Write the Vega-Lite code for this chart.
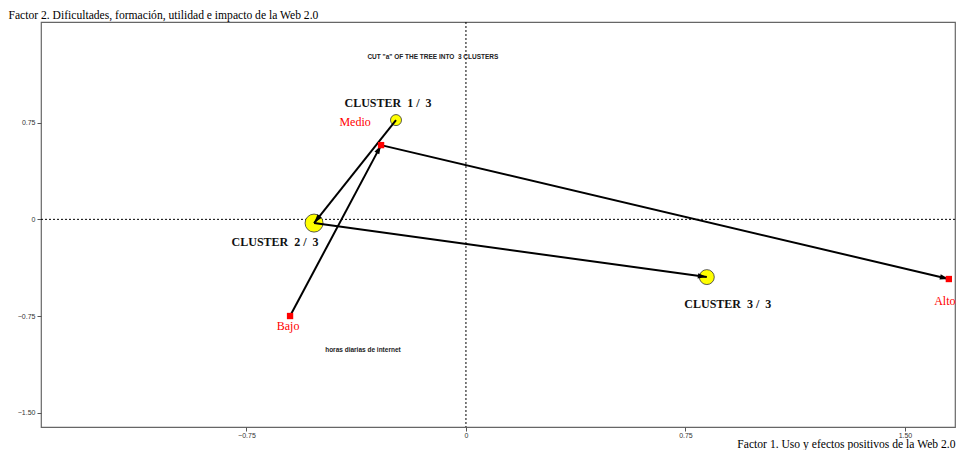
{
  "$schema": "https://vega.github.io/schema/vega-lite/v6.json",
  "width": 914,
  "height": 405,
  "autosize": "none",
  "padding": {"left": 41, "top": 22, "right": 3, "bottom": 23},
  "background": "white",
  "config": {
    "view": {"stroke": "#666", "strokeWidth": 1.2},
    "axis": {"grid": false, "domain": false}
  },
  "datasets": {
    "pts": [
      {"name": "Medio", "kind": "mod", "x": -0.290, "y": 0.576},
      {"name": "Bajo", "kind": "mod", "x": -0.601, "y": -0.750},
      {"name": "Alto", "kind": "mod", "x": 1.650, "y": -0.463},
      {"name": "CLUSTER\u00a0 1 /\u00a0 3", "kind": "cluster", "x": -0.239, "y": 0.770},
      {"name": "CLUSTER\u00a0 2 /\u00a0 3", "kind": "cluster", "x": -0.519, "y": -0.029},
      {"name": "CLUSTER\u00a0 3 /\u00a0 3", "kind": "cluster", "x": 0.823, "y": -0.448}
    ],
    "arrows": [
      {"arrow": "Bajo-Medio", "x": -0.601, "y": -0.750, "x2": -0.290, "y2": 0.576},
      {"arrow": "Medio-Alto", "x": -0.290, "y": 0.576, "x2": 1.650, "y2": -0.463},
      {"arrow": "C1-C2", "x": -0.239, "y": 0.770, "x2": -0.519, "y2": -0.029},
      {"arrow": "C2-C3", "x": -0.519, "y": -0.029, "x2": 0.823, "y2": -0.448}
    ],
    "notes": [
      {"note": "CUT \"a\" OF THE TREE INTO\u00a0 3 CLUSTERS", "x": -0.113, "y": 1.259},
      {"note": "horas diarias de internet", "x": -0.352, "y": -1.014}
    ],
    "zero": [{"v": 0}]
  },
  "layer": [
    {
      "data": {"name": "zero"},
      "mark": {"type": "rule", "color": "black", "strokeWidth": 1, "strokeDash": [2, 2]},
      "encoding": {
        "y": {"field": "v", "type": "quantitative", "scale": {"domain": [-1.611, 1.531], "nice": false, "zero": false},
          "axis": {
            "values": [-1.5, -0.75, 0, 0.75],
            "labelExpr": "datum.value == 0 ? '0' : format(datum.value, '.2f')",
            "labelFont": "Liberation Sans", "labelFontSize": 7, "labelColor": "#333",
            "tickSize": 4, "tickColor": "#555", "labelPadding": 2,
            "title": "Factor 2. Dificultades, formación, utilidad e impacto de la Web 2.0",
            "titleFont": "Liberation Serif", "titleFontSize": 11.6, "titleFontWeight": "normal", "titleColor": "black",
            "titleAngle": 0, "titleX": -33, "titleY": -4, "titleAlign": "left", "titleBaseline": "alphabetic"
          }
        }
      }
    },
    {
      "data": {"name": "zero"},
      "mark": {"type": "rule", "color": "black", "strokeWidth": 1, "strokeDash": [2, 2]},
      "encoding": {
        "x": {"field": "v", "type": "quantitative", "scale": {"domain": [-1.452, 1.671], "nice": false, "zero": false},
          "axis": {
            "values": [-0.75, 0, 0.75, 1.5],
            "labelExpr": "datum.value == 0 ? '0' : format(datum.value, '.2f')",
            "labelFont": "Liberation Sans", "labelFontSize": 7, "labelColor": "#333",
            "tickSize": 4, "tickColor": "#555", "labelPadding": 0,
            "title": "Factor 1. Uso y efectos positivos de la Web 2.0",
            "titleFont": "Liberation Serif", "titleFontSize": 11.6, "titleFontWeight": "normal", "titleColor": "black",
            "titleX": 914, "titleY": 20, "titleAlign": "right", "titleBaseline": "alphabetic"
          }
        }
      }
    },
    {
      "data": {"name": "pts"},
      "transform": [{"filter": "datum.kind == 'cluster'"}],
      "mark": {"type": "point", "shape": "circle", "filled": true, "fill": "#ffff00", "stroke": "#333", "strokeWidth": 0.8, "opacity": 1},
      "encoding": {
        "x": {"field": "x", "type": "quantitative"},
        "y": {"field": "y", "type": "quantitative"},
        "size": {"field": "name", "type": "nominal", "legend": null,
          "scale": {"domain": ["CLUSTER\u00a0 1 /\u00a0 3", "CLUSTER\u00a0 3 /\u00a0 3", "CLUSTER\u00a0 2 /\u00a0 3"], "range": [121, 324]}}
      }
    },
    {
      "data": {"name": "arrows"},
      "mark": {"type": "rule", "color": "black", "strokeWidth": 2},
      "encoding": {
        "x": {"field": "x", "type": "quantitative"},
        "y": {"field": "y", "type": "quantitative"},
        "x2": {"field": "x2"},
        "y2": {"field": "y2"}
      }
    },
    {
      "data": {"name": "arrows"},
      "mark": {"type": "point", "shape": "M0,0L-0.6,2L0.6,2Z", "filled": true, "fill": "black", "strokeWidth": 0, "opacity": 1, "size": 81},
      "encoding": {
        "x": {"field": "x2", "type": "quantitative"},
        "y": {"field": "y2", "type": "quantitative"},
        "angle": {"field": "arrow", "type": "nominal", "legend": null,
          "scale": {"type": "ordinal", "domain": ["Bajo-Medio", "Medio-Alto", "C1-C2", "C2-C3"], "range": [28, 103.3, 218.5, 97.8]}}
      }
    },
    {
      "data": {"name": "pts"},
      "transform": [{"filter": "datum.kind == 'mod'"}],
      "mark": {"type": "point", "shape": "square", "filled": true, "fill": "#ff0000", "strokeWidth": 0, "opacity": 1, "size": 40},
      "encoding": {
        "x": {"field": "x", "type": "quantitative"},
        "y": {"field": "y", "type": "quantitative"}
      }
    },
    {
      "data": {"name": "pts"},
      "transform": [{"filter": "datum.name == 'Medio'"}],
      "mark": {"type": "text", "font": "Liberation Serif", "fontSize": 12, "color": "#ff0000", "align": "center", "baseline": "middle", "dx": -26, "dy": -23},
      "encoding": {"x": {"field": "x", "type": "quantitative"}, "y": {"field": "y", "type": "quantitative"}, "text": {"field": "name"}}
    },
    {
      "data": {"name": "pts"},
      "transform": [{"filter": "datum.name == 'Bajo'"}],
      "mark": {"type": "text", "font": "Liberation Serif", "fontSize": 12, "color": "#ff0000", "align": "center", "baseline": "middle", "dx": -2, "dy": 10},
      "encoding": {"x": {"field": "x", "type": "quantitative"}, "y": {"field": "y", "type": "quantitative"}, "text": {"field": "name"}}
    },
    {
      "data": {"name": "pts"},
      "transform": [{"filter": "datum.name == 'Alto'"}],
      "mark": {"type": "text", "font": "Liberation Serif", "fontSize": 12, "color": "#ff0000", "align": "center", "baseline": "middle", "dx": -4, "dy": 22},
      "encoding": {"x": {"field": "x", "type": "quantitative"}, "y": {"field": "y", "type": "quantitative"}, "text": {"field": "name"}}
    },
    {
      "data": {"name": "pts"},
      "transform": [{"filter": "indexof(datum.name, '1 /') >= 0"}],
      "mark": {"type": "text", "font": "Liberation Serif", "fontSize": 12, "fontWeight": "bold", "color": "#111", "align": "center", "baseline": "middle", "dx": -8, "dy": -17},
      "encoding": {"x": {"field": "x", "type": "quantitative"}, "y": {"field": "y", "type": "quantitative"}, "text": {"field": "name"}}
    },
    {
      "data": {"name": "pts"},
      "transform": [{"filter": "indexof(datum.name, '2 /') >= 0"}],
      "mark": {"type": "text", "font": "Liberation Serif", "fontSize": 12, "fontWeight": "bold", "color": "#111", "align": "center", "baseline": "middle", "dx": -39, "dy": 19},
      "encoding": {"x": {"field": "x", "type": "quantitative"}, "y": {"field": "y", "type": "quantitative"}, "text": {"field": "name"}}
    },
    {
      "data": {"name": "pts"},
      "transform": [{"filter": "indexof(datum.name, '3 /') >= 0"}],
      "mark": {"type": "text", "font": "Liberation Serif", "fontSize": 12, "fontWeight": "bold", "color": "#111", "align": "center", "baseline": "middle", "dx": 21, "dy": 27},
      "encoding": {"x": {"field": "x", "type": "quantitative"}, "y": {"field": "y", "type": "quantitative"}, "text": {"field": "name"}}
    },
    {
      "data": {"name": "notes"},
      "mark": {"type": "text", "font": "Liberation Sans", "fontSize": 6.5, "fontWeight": "bold", "color": "#222", "align": "center", "baseline": "middle"},
      "encoding": {"x": {"field": "x", "type": "quantitative"}, "y": {"field": "y", "type": "quantitative"}, "text": {"field": "note"}}
    }
  ]
}
